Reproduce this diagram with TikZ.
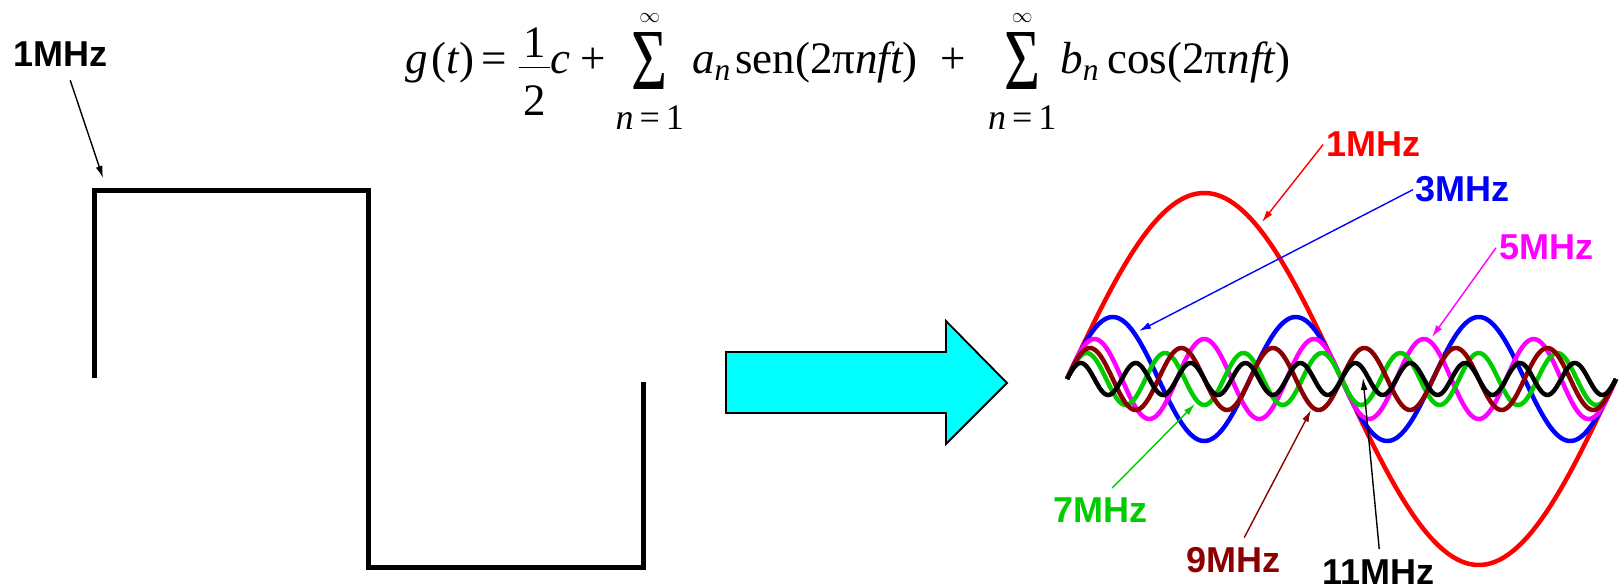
\documentclass[tikz,border=0pt]{standalone}
\usepackage{amsmath}
\usepackage{graphicx}
\usepackage{fontspec}
\setmainfont{Liberation Serif}
\newfontfamily\lblfont{Liberation Sans}
\usetikzlibrary{arrows.meta}
\definecolor{wgreen}{RGB}{0,204,0}
\definecolor{wdark}{RGB}{139,0,0}
\definecolor{wmag}{RGB}{255,0,255}
\definecolor{wcyan}{RGB}{0,255,255}
\newcommand{\tv}[1]{\mathit{#1}}
\newcommand{\tx}[1]{\text{#1}}
\newcommand{\bigsum}{\mathop{\raisebox{-16pt}{\resizebox{36pt}{57pt}{Σ}}}\limits}
\newcommand{\lowlim}{\tx{\fontsize{36}{40}\selectfont\itshape n\upshape\,=\,1}\rule{0pt}{35pt}}
\newcommand{\uplim}{\scriptscriptstyle\infty\rule[-8pt]{0pt}{8pt}}

\begin{document}
\begin{tikzpicture}[x=1pt, y=-1pt, >={Latex[length=12pt, width=7pt]}]
    \tikzset{
        lbl/.style={font=\lblfont\bfseries\fontsize{36}{40}\selectfont, inner sep=0pt, anchor=base west},
        lnk/.style={->, line width=1.4pt},
        sq/.style={line width=5pt},
        wave/.style={line width=4.5pt},
    }
    \useasboundingbox (0,0) rectangle (1620,588);

    \node[anchor=base west, inner sep=0pt, font=\fontsize{45}{54}\selectfont] (fml) at (405,74)
        {$\displaystyle \tv{g}\,\mathopen{\tx{(}}\tv{t}\mathclose{\tx{)}} \mathrel{\tx{=}}\,
        \frac{\,\tx{1}\,}{\rule{0pt}{44pt}\tx{2}}\tv{c} \,\mathbin{\tx{+}}\,
        \bigsum_{\lowlim}^{\uplim} \,\tv{a}_{\tv{n}} \operatorname{sen}\mathopen{\tx{(}}\tx{2π}\tv{nft}\mathclose{\tx{)}}
        \;\hspace{10pt}\mathbin{\tx{+}}\;\hspace{10pt}
        \bigsum_{\lowlim}^{\uplim} \tv{b}_{\tv{n}} \,\cos\mathopen{\tx{(}}\tx{2π}\tv{nft}\mathclose{\tx{)}}$};

    \draw[sq] (94,378) -- (94,191) -- (368,191) -- (368,567) -- (643,567) -- (643,382);
    \node[lbl] (sqlbl) at (13,67) {1MHz};
    \coordinate (sqtip) at (103,178);
    \draw[lnk] ([xshift=10pt, yshift=-13pt]sqlbl.south) -- (sqtip);

    \draw[line width=1.8pt, fill=wcyan] (726,352) -- (946,352) -- (946,321) -- (1007,383)
        -- (946,444) -- (946,413) -- (726,413) -- cycle;

    \foreach \k/\amp/\col in {1/186/red, 3/62/blue, 5/40/wmag, 7/26/wgreen, 6/31/wdark, 10/16/black}
        \draw[wave, \col] plot[domain=0:549, samples=360] ({1067+\x}, {379-\amp*sin(\k*\x/549*360)});

    \node[lbl, red] (f1) at (1326,157) {1MHz};
    \node[lbl, blue] (f3) at (1415,202) {3MHz};
    \node[lbl, wmag] (f5) at (1499,260) {5MHz};
    \node[lbl, wgreen] (f7) at (1053,522) {7MHz};
    \node[lbl, wdark] (f9) at (1186,572) {9MHz};
    \node[lbl] (f11) at (1322,584) {11MHz};

    \coordinate (t1) at (1262,222);
    \coordinate (t3) at (1139,331);
    \coordinate (t5) at (1432,337);
    \coordinate (t7) at (1195,404);
    \coordinate (t9) at (1311,410);
    \coordinate (t11) at (1363,378);

    \draw[lnk, red] ([xshift=-3pt]f1.west) -- (t1);
    \draw[lnk, blue] ([xshift=-2pt]f3.west) -- (t3);
    \draw[lnk, wmag] ([xshift=-3pt]f5.west) -- (t5);
    \draw[lnk, wgreen] ([xshift=12pt, yshift=9pt]f7.north) -- (t7);
    \draw[lnk, wdark] ([xshift=11pt, yshift=9pt]f9.north) -- (t9);
    \draw[lnk] ([xshift=1pt, yshift=10pt]f11.north) -- (t11);
\end{tikzpicture}
\end{document}
